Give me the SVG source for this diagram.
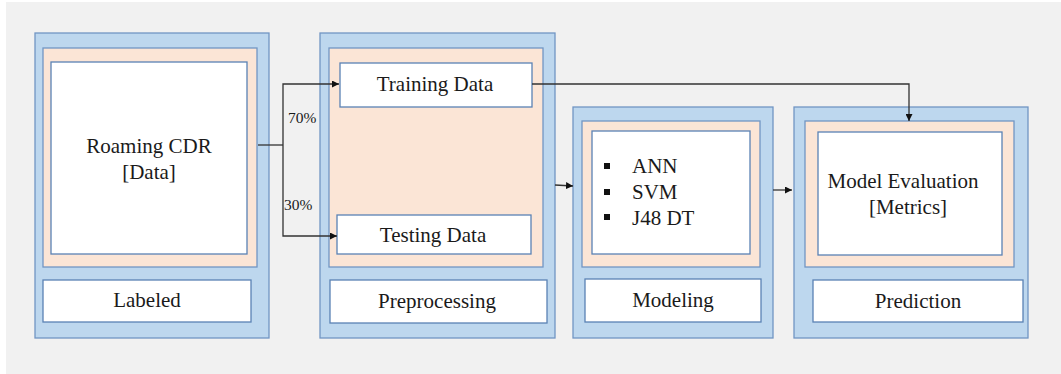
<svg xmlns="http://www.w3.org/2000/svg" width="1061" height="374" viewBox="0 0 1061 374">
  <style>
    .outer { fill: #bdd7ee; stroke: #7196c4; stroke-width: 1.3; }
    .inner { fill: #fbe5d6; stroke: #7196c4; stroke-width: 1.3; }
    .box { fill: #ffffff; stroke: #5a82b4; stroke-width: 1.3; }
    .t { font-family: "Liberation Serif", "Times New Roman", serif; font-size: 21px; fill: #1a1a1a; }
    .mid { text-anchor: middle; }
    .pct { font-family: "Liberation Serif", "Times New Roman", serif; font-size: 15.5px; fill: #1a1a1a; }
    .wire { fill: none; stroke: #333333; stroke-width: 1.3; }
    .bullet { fill: #111111; }
  </style>
  <defs>
    <marker id="arrow" viewBox="0 0 10 10" refX="10" refY="5" markerWidth="7" markerHeight="7" markerUnits="userSpaceOnUse" orient="auto">
      <path d="M0,0 L10,5 L0,10 z" fill="#111111"/>
    </marker>
  </defs>

  <rect x="0" y="0" width="1061" height="374" fill="#ffffff"/>
  <rect x="6" y="2" width="1055" height="372" fill="#f1f1f1"/>

  <!-- Stage 1: labeled roaming data -->
  <g id="labeled">
    <rect class="outer" x="35" y="33" width="234" height="305"/>
    <rect class="inner" x="43" y="48" width="214" height="219"/>
    <rect class="box" x="51" y="62" width="196" height="192"/>
    <text class="t mid" x="149" y="153">Roaming CDR</text>
    <text class="t mid" x="149" y="179">[Data]</text>
    <rect class="box" x="43" y="280" width="208" height="42"/>
    <text class="t mid" x="147" y="307">Labeled</text>
  </g>

  <!-- Stage 2: split into training / testing -->
  <g id="preprocessing">
    <rect class="outer" x="320" y="33" width="235" height="305"/>
    <rect class="inner" x="329" y="48" width="214" height="219"/>
    <rect class="box" x="340" y="63" width="192" height="44"/>
    <text class="t mid" x="435" y="91">Training Data</text>
    <rect class="box" x="337" y="215" width="194" height="39"/>
    <text class="t mid" x="433" y="242">Testing Data</text>
    <rect class="box" x="330" y="280" width="217" height="43"/>
    <text class="t mid" x="437" y="308">Preprocessing</text>
  </g>

  <!-- Stage 3: classifiers -->
  <g id="modeling">
    <rect class="outer" x="573" y="107" width="200" height="231"/>
    <rect class="inner" x="582" y="121" width="178" height="146"/>
    <rect class="box" x="592" y="131" width="158" height="123"/>
    <rect class="bullet" x="604" y="163" width="6" height="6"/>
    <rect class="bullet" x="604" y="189" width="6" height="6"/>
    <rect class="bullet" x="604" y="214" width="6" height="6"/>
    <text class="t" x="632" y="173">ANN</text>
    <text class="t" x="632" y="199">SVM</text>
    <text class="t" x="632" y="225">J48 DT</text>
    <rect class="box" x="585" y="279" width="176" height="43"/>
    <text class="t mid" x="673" y="307">Modeling</text>
  </g>

  <!-- Stage 4: evaluation -->
  <g id="prediction">
    <rect class="outer" x="794" y="107" width="234" height="231"/>
    <rect class="inner" x="805" y="121" width="209" height="146"/>
    <rect class="box" x="818" y="132" width="184" height="123"/>
    <text class="t mid" x="903" y="188">Model Evaluation</text>
    <text class="t mid" x="908" y="214">[Metrics]</text>
    <rect class="box" x="813" y="280" width="210" height="42"/>
    <text class="t mid" x="918" y="308">Prediction</text>
  </g>

  <!-- Connectors -->
  <g id="connectors">
    <path class="wire" d="M258,145 H283"/>
    <path class="wire" d="M283,145 V84 H339" marker-end="url(#arrow)"/>
    <path class="wire" d="M283,145 V236 H337" marker-end="url(#arrow)"/>
    <text class="pct" x="288" y="123">70%</text>
    <text class="pct" x="284" y="210">30%</text>
    <path class="wire" d="M532,84 H909 V121" marker-end="url(#arrow)"/>
    <path class="wire" d="M555,185 L573,186" marker-end="url(#arrow)"/>
    <path class="wire" d="M773,190 H792" marker-end="url(#arrow)"/>
  </g>
</svg>
